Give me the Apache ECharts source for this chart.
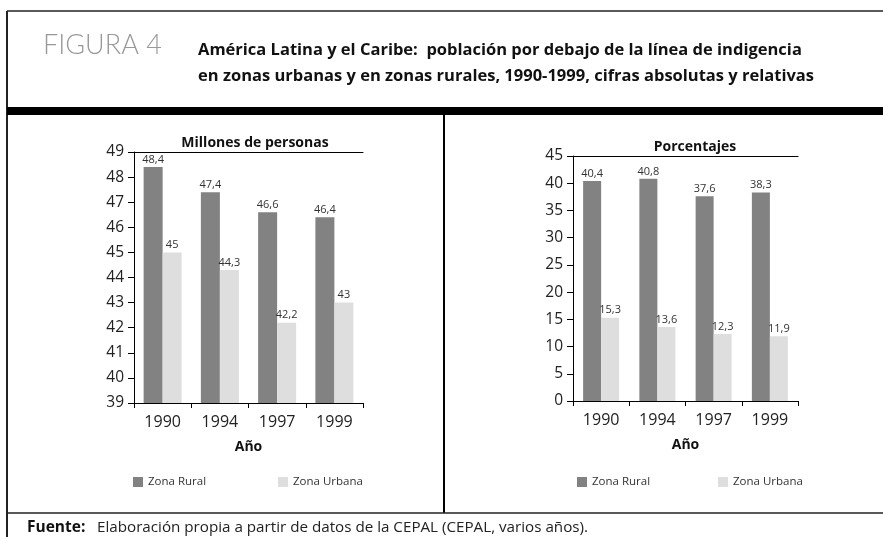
<!DOCTYPE html>
<html>
<head>
<meta charset="utf-8">
<script src="https://cdn.jsdelivr.net/npm/echarts@6/dist/echarts.min.js"></script>
<style>
  html, body { margin: 0; padding: 0; background: #fff; }
  #chart { width: 883px; height: 537px; }
</style>
</head>
<body>
<div id="chart"></div>
<script>
// datos
const years = ['1990', '1994', '1997', '1999']
const ruralMillones = [48.4, 47.4, 46.6, 46.4]
const urbanaMillones = [45, 44.3, 42.2, 43]
const ruralPct = [40.4, 40.8, 37.6, 38.3]
const urbanaPct = [15.3, 13.6, 12.3, 11.9]

const darkGray = '#828282'
const lightGray = '#dedede'
const font = 'Open Sans'

const myChart = echarts.init(document.getElementById('chart'))

const barLabel = {
  show: true,
  position: 'top',
  distance: 2,
  fontFamily: font,
  fontSize: 11,
  color: '#333',
  formatter: p => String(p.value).replace('.', ',')
}

function xAxes(gridIndex) {
  return [
    {
      gridIndex: gridIndex,
      type: 'category',
      data: years,
      axisLine: { lineStyle: { color: '#000', width: 1 } },
      axisTick: { show: true, length: 5, lineStyle: { color: '#000' } },
      axisLabel: { fontFamily: font, fontSize: 16, color: '#222', margin: 11 },
      name: 'Año',
      nameLocation: 'middle',
      nameGap: 37,
      nameTextStyle: { fontFamily: font, fontSize: 14, fontWeight: 'bold', color: '#111', verticalAlign: 'top' }
    },
    {
      // linea superior del grafico
      gridIndex: gridIndex,
      type: 'category',
      position: 'top',
      data: years,
      axisLine: { lineStyle: { color: '#000', width: 1 } },
      axisTick: { show: false },
      axisLabel: { show: false }
    }
  ]
}

function yAxis(gridIndex, min, max, interval) {
  return {
    gridIndex: gridIndex,
    type: 'value',
    min: min,
    max: max,
    interval: interval,
    axisLine: { show: true, lineStyle: { color: '#000', width: 1 } },
    axisTick: { show: true, length: 6, lineStyle: { color: '#000' } },
    axisLabel: { fontFamily: font, fontSize: 15.5, color: '#222', margin: 10 },
    splitLine: { show: false }
  }
}

function legend(name, left) {
  return {
    data: [name],
    left: left,
    top: 476,
    icon: 'rect',
    itemWidth: 10,
    itemHeight: 10,
    itemGap: 5,
    padding: 0,
    selectedMode: false,
    textStyle: { fontFamily: font, fontSize: 11.5, color: '#333' }
  }
}

const option = {
  animation: false,
  title: [
    {
      text: 'Millones de personas',
      left: 250,
      top: 131,
      textAlign: 'center',
      textStyle: { fontFamily: font, fontSize: 14, fontWeight: 'bold', color: '#111' }
    },
    {
      text: 'Porcentajes',
      left: 690,
      top: 135,
      textAlign: 'center',
      textStyle: { fontFamily: font, fontSize: 14, fontWeight: 'bold', color: '#111' }
    }
  ],
  legend: [
    legend('Zona Rural', 133),
    legend('Zona Urbana', 278),
    legend('Zona Rural', 577),
    legend('Zona Urbana', 718)
  ],
  grid: [
    { left: 134, top: 152, width: 229, height: 251 },
    { left: 573, top: 156, width: 225, height: 245 }
  ],
  xAxis: [...xAxes(0), ...xAxes(1)],
  yAxis: [yAxis(0, 39, 49, 1), yAxis(1, 0, 45, 5)],
  series: [
    {
      name: 'Zona Rural', type: 'bar', xAxisIndex: 0, yAxisIndex: 0,
      data: ruralMillones, barWidth: 19, barGap: '0%',
      itemStyle: { color: darkGray }, label: barLabel
    },
    {
      name: 'Zona Urbana', type: 'bar', xAxisIndex: 0, yAxisIndex: 0,
      data: urbanaMillones, barWidth: 19, barGap: '0%',
      itemStyle: { color: lightGray }, label: barLabel
    },
    {
      name: 'Zona Rural', type: 'bar', xAxisIndex: 2, yAxisIndex: 1,
      data: ruralPct, barWidth: 18, barGap: '0%',
      itemStyle: { color: darkGray }, label: barLabel
    },
    {
      name: 'Zona Urbana', type: 'bar', xAxisIndex: 2, yAxisIndex: 1,
      data: urbanaPct, barWidth: 18, barGap: '0%',
      itemStyle: { color: lightGray }, label: barLabel
    }
  ],
  graphic: [
    // marco
    { type: 'line', shape: { x1: 7, y1: 11, x2: 883, y2: 11 }, style: { stroke: '#222', lineWidth: 1.5 } },
    { type: 'line', shape: { x1: 7, y1: 11, x2: 7, y2: 537 }, style: { stroke: '#222', lineWidth: 2 } },
    { type: 'rect', shape: { x: 7, y: 107, width: 876, height: 8 }, style: { fill: '#000' } },
    { type: 'line', shape: { x1: 444, y1: 115, x2: 444, y2: 513 }, style: { stroke: '#000', lineWidth: 2 } },
    { type: 'line', shape: { x1: 7, y1: 513, x2: 883, y2: 513 }, style: { stroke: '#222', lineWidth: 1.5 } },
    // encabezado
    {
      type: 'text', left: 43, top: 32,
      style: { text: 'FIGURA 4', font: '300 27px Lato', fill: '#999' }
    },
    {
      type: 'text', left: 198, top: 37,
      style: {
        text: 'América Latina y el Caribe:  población por debajo de la línea de indigencia\nen zonas urbanas y en zonas rurales, 1990-1999, cifras absolutas y relativas',
        font: 'bold 16.5px ' + font, fill: '#111', lineHeight: 26
      }
    },
    // fuente
    {
      type: 'text', left: 27, top: 520,
      style: { text: 'Fuente:', font: 'bold 15.5px ' + font, fill: '#111' }
    },
    {
      type: 'text', left: 97, top: 520,
      style: { text: 'Elaboración propia a partir de datos de la CEPAL (CEPAL, varios años).', font: '15.2px ' + font, fill: '#222' }
    }
  ]
}

myChart.setOption(option)
</script>
</body>
</html>
